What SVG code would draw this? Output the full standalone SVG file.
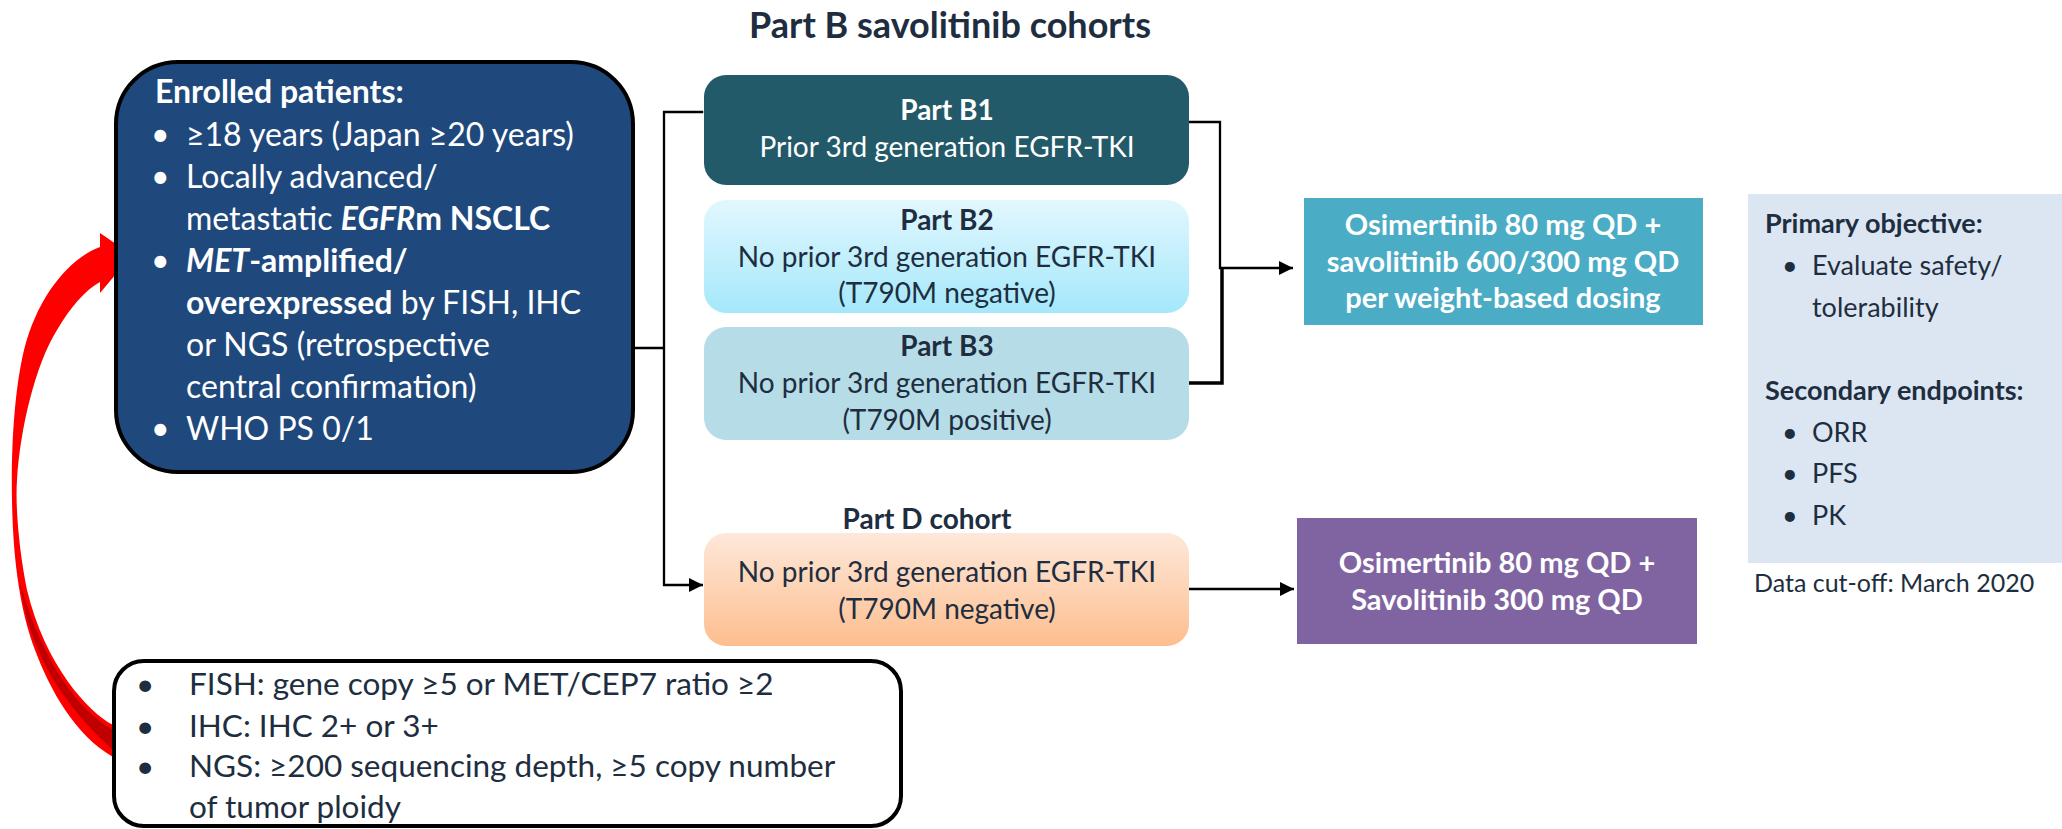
<svg xmlns="http://www.w3.org/2000/svg" width="2062" height="829" viewBox="0 0 2062 829">
<style>
  text { font-family: Lato, "Open Sans", "Liberation Sans", sans-serif; }
  .w { fill: #ffffff; }
  .d { fill: #1E2E40; }
  .b { font-weight: 700; }
  .bi { font-weight: 700; font-style: italic; }
  .t32 { font-size: 32px; }
  .t28 { font-size: 28px; }
  .t27 { font-size: 27px; }
  .t29 { font-size: 29px; }
  .ln { fill: none; stroke: #000; stroke-width: 2.3; }
  .lnt { fill: none; stroke: #000; stroke-width: 3.5; }
  .mid { text-anchor: middle; }
</style>
<defs>
  <marker id="ah" markerUnits="userSpaceOnUse" markerWidth="15" markerHeight="14" refX="14" refY="7" orient="auto">
    <path d="M0,0 L14,7 L0,14 z" fill="#000"/>
  </marker>
  <linearGradient id="gB2" x1="0" y1="0" x2="0" y2="1">
    <stop offset="0" stop-color="#E2F7FE"/>
    <stop offset="1" stop-color="#A4E8FB"/>
  </linearGradient>
  <linearGradient id="gD" x1="0" y1="0" x2="0" y2="1">
    <stop offset="0" stop-color="#FEE8DA"/>
    <stop offset="1" stop-color="#FDBE8E"/>
  </linearGradient>
</defs>
<rect width="2062" height="829" fill="#ffffff"/>

<g id="title">
  <text x="950" y="38" class="d b mid" font-size="36">Part B savolitinib cohorts</text>
</g>

<g id="connectors">
  <polyline class="ln" points="625,348 664,348"/>
  <polyline class="ln" points="703,112 664,112 664,585 703,585" marker-start="url(#ah)" marker-end="url(#ah)"/>
  <polyline class="ln" points="1189,122 1220,122 1220,268 1293,268" marker-end="url(#ah)"/>
  <polyline class="lnt" points="1189,383 1222,383 1222,268"/>
  <line class="ln" x1="1189" y1="589" x2="1294" y2="589" marker-end="url(#ah)"/>
  <g id="red-arrow">
    <path d="M100,247 C70,258 38,295 24,350 C14,392 11,450 12,500 C13,560 20,610 35,650 C50,690 75,735 113,757 L113,725 C88,712 45,665 27,590 C20,555 15,510 17,480 C20,430 35,365 57,330 C70,308 85,290 100,282 L100,293 L132,255 L100,233 Z" fill="#FF0000"/>
    <path d="M20,582 C26,632 48,692 113,750 L113,730 C78,710 42,662 20,582 Z" fill="#C00000"/>
  </g>
</g>

<g id="enrolled">
  <rect x="116" y="62" width="517" height="410" rx="62" fill="#1F497D" stroke="#000" stroke-width="4"/>
  <g class="w t32">
    <text x="155" y="103" class="b">Enrolled patients:</text>
    <text x="151" y="146">•</text><text x="186" y="146">≥18 years (Japan ≥20 years)</text>
    <text x="151" y="188">•</text><text x="186" y="188">Locally advanced/</text>
    <text x="186" y="230">metastatic <tspan class="bi">EGFR</tspan><tspan class="b">m NSCLC</tspan></text>
    <text x="151" y="272">•</text><text x="186" y="272"><tspan class="bi">MET</tspan><tspan class="b">-amplified/</tspan></text>
    <text x="186" y="314"><tspan class="b">overexpressed</tspan> by FISH, IHC</text>
    <text x="186" y="356">or NGS (retrospective</text>
    <text x="186" y="398">central confirmation)</text>
    <text x="151" y="440">•</text><text x="186" y="440">WHO PS 0/1</text>
  </g>
</g>

<g id="partB1">
  <rect x="704" y="75" width="485" height="110" rx="22" fill="#235A69"/>
  <text x="947" y="120" class="w b t28 mid">Part B1</text>
  <text x="947" y="157" class="w t28 mid">Prior 3rd generation EGFR-TKI</text>
</g>

<g id="partB2">
  <rect x="704" y="200" width="485" height="113" rx="22" fill="url(#gB2)"/>
  <text x="947" y="230" class="d b t28 mid">Part B2</text>
  <text x="947" y="267" class="d t28 mid">No prior 3rd generation EGFR-TKI</text>
  <text x="947" y="303" class="d t28 mid">(T790M negative)</text>
</g>

<g id="partB3">
  <rect x="704" y="327" width="485" height="113" rx="22" fill="#B6DDE7"/>
  <text x="947" y="356" class="d b t28 mid">Part B3</text>
  <text x="947" y="393" class="d t28 mid">No prior 3rd generation EGFR-TKI</text>
  <text x="947" y="430" class="d t28 mid">(T790M positive)</text>
</g>

<g id="partD">
  <text x="927" y="529" class="d b t28 mid">Part D cohort</text>
  <rect x="704" y="533" width="485" height="113" rx="22" fill="url(#gD)"/>
  <text x="947" y="582" class="d t28 mid">No prior 3rd generation EGFR-TKI</text>
  <text x="947" y="619" class="d t28 mid">(T790M negative)</text>
</g>

<g id="osi-savo-weight">
  <rect x="1304" y="198" width="399" height="127" fill="#4BACC6"/>
  <text x="1503" y="235" class="w b t29 mid">Osimertinib 80 mg QD +</text>
  <text x="1503" y="272" class="w b t29 mid">savolitinib 600/300 mg QD</text>
  <text x="1503" y="308" class="w b t29 mid">per weight-based dosing</text>
</g>

<g id="osi-savo-300">
  <rect x="1297" y="518" width="400" height="126" fill="#8064A2"/>
  <text x="1497" y="573" class="w b t29 mid">Osimertinib 80 mg QD +</text>
  <text x="1497" y="610" class="w b t29 mid">Savolitinib 300 mg QD</text>
</g>

<g id="objectives">
  <rect x="1748" y="194" width="314" height="369" fill="#DCE6F2"/>
  <g class="d t27">
    <text x="1765" y="233" class="b">Primary objective:</text>
    <text x="1782" y="275">•</text><text x="1812" y="275">Evaluate safety/</text>
    <text x="1812" y="317">tolerability</text>
    <text x="1765" y="400" class="b">Secondary endpoints:</text>
    <text x="1782" y="442">•</text><text x="1812" y="442">ORR</text>
    <text x="1782" y="483">•</text><text x="1812" y="483">PFS</text>
    <text x="1782" y="525">•</text><text x="1812" y="525">PK</text>
  </g>
  <text x="1754" y="592" class="d" font-size="25">Data cut-off: March 2020</text>
</g>

<g id="criteria">
  <rect x="114" y="661" width="787" height="165" rx="30" fill="#ffffff" stroke="#000" stroke-width="4"/>
  <g class="d" font-size="31.5">
    <text x="136" y="695">•</text>
    <text x="136" y="737">•</text>
    <text x="136" y="777">•</text>
    <text x="189" y="695">FISH: gene copy ≥5 or MET/CEP7 ratio ≥2</text>
    <text x="189" y="737">IHC: IHC 2+ or 3+</text>
    <text x="189" y="777">NGS: ≥200 sequencing depth, ≥5 copy number</text>
    <text x="189" y="818">of tumor ploidy</text>
  </g>
</g>
</svg>
